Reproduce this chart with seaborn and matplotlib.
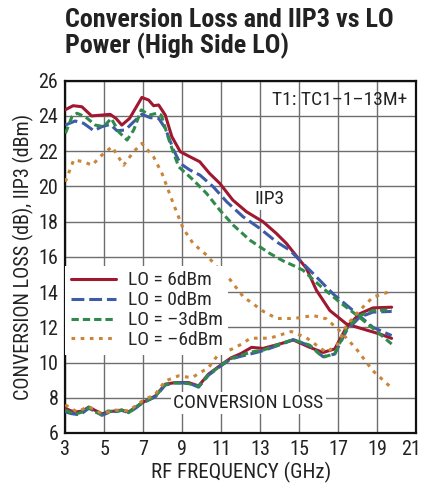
import matplotlib
matplotlib.use("Agg")
import matplotlib.pyplot as plt
import matplotlib.transforms as mtransforms
from matplotlib import font_manager as fm
import seaborn as sns

# IIP3 curves (dBm)
iip3_6_x = [3.0, 3.4, 3.85, 4.35, 4.9, 5.3, 5.6, 5.9, 6.3, 6.65, 6.93, 7.28, 7.53, 7.79, 8.13, 8.47,
            8.9, 9.4, 9.9, 10.4, 10.93, 11.6, 12.3, 13.15, 13.83, 14.35, 14.86, 15.38, 15.89, 16.58,
            17.43, 18.28, 19.14, 19.75]
iip3_6_y = [24.35, 24.58, 24.52, 24.0, 24.05, 24.09, 23.86, 23.48, 23.86, 24.52, 25.05, 24.9, 24.58,
            24.62, 24.05, 22.82, 21.97, 21.68, 21.4, 20.74, 20.17, 19.22, 18.56, 17.99, 17.33, 16.76,
            16.05, 15.34, 14.1, 12.95, 12.19, 11.9, 11.62, 11.37]

iip3_0_x = [3.0, 3.5, 3.94, 4.46, 4.88, 5.31, 5.65, 6.08, 6.51, 6.93, 7.36, 7.79, 8.13, 8.56, 8.9,
            9.39, 9.91, 10.59, 11.28, 12.13, 12.99, 13.84, 14.52, 15.03, 15.72, 16.74, 17.77, 18.79, 19.75]
iip3_0_y = [23.48, 23.71, 23.58, 23.16, 23.39, 23.52, 23.16, 23.2, 23.67, 24.09, 23.9, 23.86, 23.3,
            22.06, 21.3, 20.93, 20.64, 19.98, 19.13, 18.27, 17.61, 16.85, 16.38, 15.81, 15.05, 13.9,
            12.95, 12.0, 11.53]

iip3_m3_x = [3.0, 3.34, 3.6, 4.03, 4.54, 4.97, 5.36, 5.74, 6.17, 6.51, 6.9, 7.31, 7.7, 7.92, 8.38,
             8.82, 9.57, 10.25, 10.93, 11.62, 12.47, 13.5, 14.18, 14.86, 15.2, 16.05, 17.08, 18.1,
             19.14, 19.75]
iip3_m3_y = [23.0, 23.95, 24.15, 23.95, 23.48, 23.39, 23.86, 23.1, 22.63, 23.2, 24.34, 24.05, 24.15,
             24.05, 22.44, 21.11, 20.36, 19.6, 18.65, 17.8, 16.95, 16.19, 15.77, 15.43, 15.24, 14.38,
             13.43, 12.57, 11.62, 11.05]

iip3_m6_x = [3.0, 3.43, 3.94, 4.37, 4.88, 5.4, 5.99, 6.51, 6.93, 7.53, 7.96, 8.22, 8.54, 9.05, 9.56,
             10.25, 10.93, 11.46, 12.13, 13.17, 13.85, 14.54, 15.03, 15.72, 16.4, 17.08, 17.94,
             18.79, 19.75]
iip3_m6_y = [20.26, 21.5, 21.4, 21.2, 21.78, 22.25, 21.2, 21.97, 22.44, 21.68, 20.74, 19.98, 19.03,
             17.61, 16.76, 16.1, 15.24, 14.7, 13.74, 12.9, 12.5, 12.5, 12.54, 12.67, 12.48, 11.81,
             10.77, 9.53, 8.55]

# conversion loss curves (dB)
cl_x = [3.0, 3.3, 3.6, 3.9, 4.2, 4.5, 4.88, 5.2, 5.56, 5.9, 6.25, 6.6, 6.93, 7.62, 8.13, 8.64, 9.33,
        9.84, 10.35, 11.04, 11.5, 12.0, 12.56, 13.15, 14.0, 14.7, 15.55, 16.23, 16.83, 17.43, 18.1,
        18.79, 19.75]
cl_6_y = [7.4, 7.25, 7.2, 7.25, 7.47, 7.3, 7.08, 7.2, 7.25, 7.3, 7.2, 7.45, 7.71, 8.1, 8.77, 8.86,
          8.86, 8.67, 9.34, 9.9, 10.26, 10.5, 10.86, 10.8, 11.05, 11.28, 10.86, 10.57, 10.77, 12.0,
          12.76, 13.1, 13.14]
cl_0_y = [7.2, 7.1, 7.05, 7.15, 7.4, 7.25, 7.0, 7.15, 7.22, 7.28, 7.15, 7.4, 7.68, 8.05, 8.72, 8.84,
          8.84, 8.6, 9.28, 9.85, 10.2, 10.35, 10.5, 10.67, 11.0, 11.3, 10.95, 10.33, 10.48, 11.8,
          12.57, 12.86, 12.9]
cl_m3_y = [7.3, 7.15, 7.1, 7.2, 7.45, 7.2, 7.05, 7.25, 7.2, 7.3, 7.15, 7.45, 7.7, 8.08, 8.75, 8.85,
           8.8, 8.65, 9.3, 9.88, 10.22, 10.4, 10.6, 10.7, 11.05, 11.3, 10.98, 10.3, 10.5, 11.9,
           12.65, 12.95, 13.0]
cl_m6_x = [3.0, 3.6, 4.2, 4.88, 5.56, 6.25, 6.93, 7.62, 8.13, 8.8, 9.5, 10.35, 10.87, 11.55, 12.06,
           12.5, 13.5, 14.6, 15.38, 16.4, 17.0, 17.43, 18.1, 18.79, 19.75]
cl_m6_y = [7.6, 7.2, 7.5, 7.1, 7.3, 7.25, 7.8, 8.2, 8.95, 9.24, 9.14, 9.71, 10.48, 10.76, 11.05,
           11.38, 11.38, 11.76, 11.4, 10.57, 11.05, 12.1, 12.95, 13.71, 14.06]

labels = ["LO = 6dBm", "LO = 0dBm", "LO = \u20133dBm", "LO = \u20136dBm"]
x_ticks = [3, 5, 7, 9, 11, 13, 15, 17, 19, 21]
y_ticks = [6, 8, 10, 12, 14, 16, 18, 20, 22, 24, 26]

# pick a condensed sans if one is installed
installed = set(f.name for f in fm.fontManager.ttflist)
prefs = ["Roboto Condensed", "Arimo Narrow", "Liberation Sans Narrow", "Archivo Narrow",
         "PT Sans Narrow", "Open Sans Condensed", "Barlow Semi Condensed", "Encode Sans Condensed",
         "DejaVu Sans"]
narrow = next(p for p in prefs if p in installed)

sns.set_style("white")
plt.rcParams['font.family'] = [narrow, 'DejaVu Sans']

fig = plt.figure(figsize=(4.23, 4.92), dpi=100)
ax = fig.add_axes([0.1544, 0.120, 0.829, 0.716])

red = "#A01830"
blue = "#3D5BA8"
green = "#2F8A4B"
orange = "#C98538"
lw = 2.2

styles = [
    (red, "-"),
    (blue, (0, (4.2, 1.6))),
    (green, (0, (2.4, 1.3))),
    (orange, (0, (1.2, 1.8))),
]
iip3 = [(iip3_6_x, iip3_6_y), (iip3_0_x, iip3_0_y), (iip3_m3_x, iip3_m3_y), (iip3_m6_x, iip3_m6_y)]
cl = [(cl_x, cl_6_y), (cl_x, cl_0_y), (cl_x, cl_m3_y), (cl_m6_x, cl_m6_y)]

for i, (col, ls) in enumerate(styles):
    sns.lineplot(x=cl[i][0], y=cl[i][1], ax=ax, color=col, linestyle=ls, lw=lw, sort=False,
                 zorder=3 + i * 0.1)
for i, (col, ls) in enumerate(styles):
    sns.lineplot(x=iip3[i][0], y=iip3[i][1], ax=ax, color=col, linestyle=ls, lw=lw, sort=False,
                 label=labels[i], zorder=3 + i * 0.1)

for ln in ax.lines:
    ln.set_dash_capstyle("butt")

ink = "#222222"
fs = 14
ax.set_xlim(3, 21)
ax.set_ylim(6, 26)
ax.set_xticks(x_ticks)
ax.set_yticks(y_ticks)
ax.grid(True, color="#6e6e6e", lw=1.0)
ax.set_axisbelow(True)
for s in ax.spines.values():
    s.set_color("#111111")
    s.set_linewidth(1.6)
ax.tick_params(axis="x", length=0, labelsize=14.5, pad=5, colors=ink)
ax.tick_params(axis="y", length=0, labelsize=14.5, pad=5, colors=ink)
ax.set_xlabel("RF FREQUENCY (GHz)", fontsize=15, color=ink, labelpad=2)
ax.set_ylabel("CONVERSION LOSS (dB), IIP3 (dBm)", fontsize=14.5, color=ink, labelpad=3)

# last x label sits a little left of its gridline, as in the original
last = ax.xaxis.get_major_ticks()[-1].label1
last.set_transform(last.get_transform() + mtransforms.ScaledTranslation(-5 / 100, 0, fig.dpi_scale_trans))

leg = ax.legend(loc="upper left", bbox_to_anchor=(0.0, 0.475), borderaxespad=0.0, fontsize=fs,
                handlelength=2.3, handletextpad=0.6, labelspacing=0.1, frameon=True,
                fancybox=False, borderpad=0.3)
leg.get_frame().set_facecolor("white")
leg.get_frame().set_edgecolor("none")
leg.get_frame().set_alpha(1.0)
leg.set_zorder(5)

box = dict(facecolor="white", edgecolor="none", pad=1.5)
ax.text(13.5, 19.3, "IIP3", fontsize=fs, ha="center", va="center", color=ink, bbox=box, zorder=4)
ax.text(12.4, 7.7, "CONVERSION LOSS", fontsize=fs, ha="center", va="center", color=ink,
        bbox=box, zorder=4)
ax.text(20.55, 24.9, "T1: TC1\u20131\u201313M+", fontsize=fs, ha="right", va="center", color=ink,
        zorder=4)

fig.text(65 / 423, 1 - 8 / 492, "Conversion Loss and IIP3 vs LO\nPower (High Side LO)",
         ha="left", va="top", fontsize=18.8, fontweight="bold", color=ink, linespacing=1.05)

fig.savefig("out.png", dpi=100)
